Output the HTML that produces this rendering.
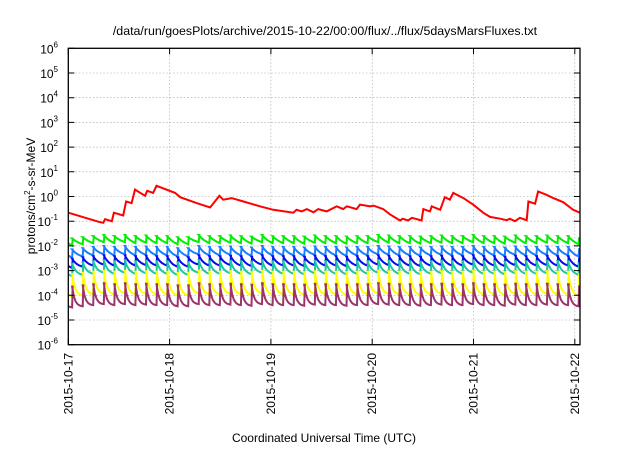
<!DOCTYPE html>
<html><head><meta charset="utf-8"><style>
body{margin:0;background:#fff;}
svg text{font-family:"Liberation Sans",sans-serif;fill:#000;}
</style></head><body>
<svg id="chart" width="640" height="448" xmlns="http://www.w3.org/2000/svg">
<rect width="640" height="448" fill="#fff"/>
<text x="325" y="35" font-size="12.4" text-anchor="middle">/data/run/goesPlots/archive/2015-10-22/00:00/flux/../flux/5daysMarsFluxes.txt</text>
<g id="grid"></g>
<g id="series"></g>
<rect x="68.3" y="48.3" width="511.7" height="296.4" fill="none" stroke="#000" stroke-width="1.3"/>
<g id="axes"></g>
<text transform="translate(35,196) rotate(-90)" font-size="12" text-anchor="middle">protons/cm<tspan font-size="8" dy="-5">2</tspan><tspan dy="5">-s-sr-MeV</tspan></text>
<text x="324" y="442" font-size="12" text-anchor="middle">Coordinated Universal Time (UTC)</text>
</svg>
<script>
const dayLabels = ["2015-10-17","2015-10-18","2015-10-19","2015-10-20","2015-10-21","2015-10-22"];
const yExponents = [-6,-5,-4,-3,-2,-1,0,1,2,3,4,5,6];
const redTimes = [0,7.5,8.3,8.7,10.3,10.8,13.0,13.7,15.0,15.8,18.2,18.7,20.1,20.9,25.3,26.5,30.4,33.6,35.8,36.7,38.7,41.5,45.4,48.6,53.3,54.1,55.3,56.5,58.1,59.2,61.2,63.6,65.1,66.0,68.3,69.1,71.5,72.3,74.6,76.2,78.6,79.2,80.5,81.4,83.7,84.1,85.7,86.1,88.1,89.2,90.4,91.2,93.6,95.9,98.3,99.9,102.3,103.9,104.6,105.8,107.0,108.6,109.0,110.6,111.3,113.3,114.9,117.3,119.6,121.2];
const redValues = [0.22,0.091,0.086,0.12,0.10,0.22,0.17,0.63,0.54,1.9,1.07,1.7,1.4,2.7,1.4,0.94,0.54,0.36,1.07,0.74,0.86,0.63,0.40,0.29,0.22,0.29,0.25,0.31,0.23,0.31,0.25,0.40,0.31,0.40,0.31,0.47,0.40,0.43,0.31,0.19,0.107,0.126,0.107,0.137,0.107,0.31,0.25,0.40,0.29,0.94,0.74,1.4,0.86,0.47,0.22,0.15,0.126,0.11,0.126,0.10,0.137,0.11,0.63,0.51,1.6,1.17,0.86,0.58,0.29,0.22];
const spikeTimes = [0.9,3.4,5.9,8.4,10.9,13.4,15.9,18.4,20.9,23.4,25.9,28.4,30.9,33.4,35.9,38.4,40.9,43.4,45.9,48.4,50.9,53.4,55.9,58.4,60.9,63.4,65.9,68.4,70.9,73.4,75.9,78.4,80.9,83.4,85.9,88.4,90.9,93.4,95.9,98.4,100.9,103.4,105.9,108.4,110.9,113.4,115.9,118.4,120.9];
const spikeScale = [0.8,0.9,1.0,1.1,1.0,1.1,1.0,1.05,1.0,1.0,0.9,0.9,1.1,1.0,1.0,1.05,1.0,0.95,1.1,1.0,1.0,1.0,0.95,1.05,1.0,1.0,0.95,1.0,1.0,1.1,1.05,1.0,1.0,0.95,1.0,1.05,1.0,1.0,1.1,1.0,1.0,0.95,1.05,1.0,1.0,1.05,1.0,1.0,0.9];
const seriesNames = ["green","light-blue","blue","teal","yellow","purple"];
const seriesColors = ["#00ee00","#1a7dff","#0a0af0","#1cc8a0","#ffff00","#9b3468"];
const seriesPeaks = [0.025,0.009,0.0038,0.0024,0.0009,0.00028];
const seriesTroughs = [0.013,0.0042,0.0016,0.00075,0.00011,0.00004];
const seriesCurve = [1.0,1.5,1.8,2.5,3.5,4.0];

const NS="http://www.w3.org/2000/svg";
const X0=68.3, PX_DAY=101.3, Y0=196.5, PX_DEC=24.7, TOP=48.3, BOT=344.7, RIGHT=580;
const xs = t => X0 + t/24*PX_DAY;
const ys = v => Y0 - Math.log10(v)*PX_DEC;
function mk(tag, parent, attrs){const e=document.createElementNS(NS,tag);for(const k in attrs)e.setAttribute(k,attrs[k]);parent.appendChild(e);return e;}
const grid=document.getElementById('grid'), axes=document.getElementById('axes'), ser=document.getElementById('series');

yExponents.forEach(ex=>{
  const y=ys(Math.pow(10,ex));
  if(ex>-6&&ex<6){const g=mk('line',grid,{x1:X0,x2:RIGHT,y1:y,y2:y,stroke:'#a0a0a0','stroke-width':0.6,'stroke-dasharray':'1.5,2'});
  
  }
  const tk=mk('path',axes,{d:`M${X0},${y}h6M${RIGHT},${y}h-6`,stroke:'#000','stroke-width':1});
  
  
  const t=mk('text',axes,{x:58,y:y+5,'font-size':12,'text-anchor':'end'});
  
  
  t.textContent='10';
  const s=mk('tspan',t,{'font-size':8,dy:-6});
  s.textContent=String(ex);
});
dayLabels.forEach((lab,i)=>{
  const x=xs(i*24);
  if(i>0){const g=mk('line',grid,{x1:x,x2:x,y1:TOP,y2:BOT,stroke:'#a0a0a0','stroke-width':0.6,'stroke-dasharray':'1.5,2'});
  
  }
  const tk=mk('path',axes,{d:`M${x},${BOT}v-6M${x},${TOP}v6`,stroke:'#000','stroke-width':1});
  
  
  const t=mk('text',axes,{transform:`translate(${x+4},${353}) rotate(-90)`,'font-size':12,'text-anchor':'end'});
  
  
  t.textContent=lab;
});

seriesNames.forEach((nm,si)=>{
  const P=seriesPeaks[si], T=seriesTroughs[si], k=seriesCurve[si];
  const pts=[];
  let prevP=P, prevT=spikeTimes[0]-2.5, start=0;
  for(let i=0;i<spikeTimes.length;i++){
    const ts=spikeTimes[i], sc=spikeScale[i];
    const tb=T*sc;
    for(let j=0;j<=6;j++){
      const u=j/6, t=prevT+(ts-prevT)*u;
      if(t<start||t>121.2) continue;
      const f=(1-Math.exp(-k*u))/(1-Math.exp(-k));
      const lv=Math.log10(prevP)+(Math.log10(tb)-Math.log10(prevP))*f;
      pts.push([xs(t),ys(Math.pow(10,lv))]);
    }
    if(ts>121.2) break;
    prevP=P*sc; prevT=ts;
    pts.push([xs(ts+0.15),ys(prevP)]);
  }
  if(prevT<121.2){
    for(let j=1;j<=6;j++){const u=j/6,t=prevT+2.5*u;if(t>121.2)break;
      const f=(1-Math.exp(-k*u))/(1-Math.exp(-k));
      const lv=Math.log10(prevP)+(Math.log10(T)-Math.log10(prevP))*f;
      pts.push([xs(t),ys(Math.pow(10,lv))]);}
  }
  const p=mk('polyline',ser,{points:pts.map(q=>q[0].toFixed(1)+','+q[1].toFixed(1)).join(' '),fill:'none',stroke:seriesColors[si],'stroke-width':2,'stroke-linejoin':'miter'});
  
  
});
const rp=mk('polyline',ser,{points:redTimes.map((t,i)=>xs(t).toFixed(1)+','+ys(redValues[i]).toFixed(1)).join(' '),fill:'none',stroke:'#ff0000','stroke-width':2});


</script>
</body></html>
